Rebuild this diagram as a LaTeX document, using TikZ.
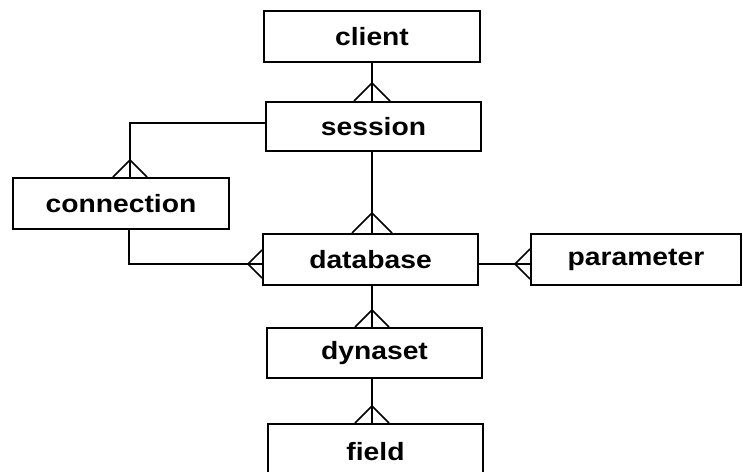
\documentclass[tikz,border=0pt]{standalone}
\usepackage{fontspec}
\newfontfamily\labfont{Liberation Sans}[FakeStretch=1.13]
\begin{document}
\begin{tikzpicture}[x=1pt,y=-1pt,
  entity/.style={draw,line width=2pt,rectangle,inner sep=0pt,
    font=\labfont\bfseries\fontsize{25}{30}\selectfont},
  link/.style={line width=1.6pt},
  crowtop/.pic={\draw[line width=1.6pt,line join=miter] (-#1,0) -- (0,-#1) -- (#1,0);},
  crowleft/.pic={\draw[line width=1.6pt,line join=miter] (0,-#1) -- (-#1,0) -- (0,#1);}
]
\useasboundingbox (0,0) rectangle (743,471);
\clip (0,0) rectangle (743,471);
\fill[white] (0,0) rectangle (743,471);

\node[entity,minimum width=216pt,minimum height=51pt] (client) at (372,36.5) {client};
\node[entity,minimum width=215pt,minimum height=49pt] (session) at (373.5,126.5) {session};
\node[entity,minimum width=216pt,minimum height=51pt] (connection) at (121,203.5) {connection};
\node[entity,minimum width=215pt,minimum height=51pt] (database) at (370.5,259.5) {database};
\node[entity,minimum width=210pt,minimum height=51pt] (parameter) at (636,259.5) {parameter};
\node[entity,minimum width=215pt,minimum height=50pt] (dynaset) at (374.5,353) {dynaset};
\node[entity,minimum width=215pt,minimum height=56pt] (field) at (375.5,452) {field};

\coordinate (spine) at (372,0);
\coordinate (cx) at (130,0);
\coordinate (lowrow) at (0,264);

% client -- session
\draw[link] (spine |- client.south) -- (spine |- session.north);
\pic at (spine |- session.north) {crowtop=18};

% session -- connection
\draw[link] ([yshift=3.5pt]session.west) -| (cx |- connection.north);
\pic at (cx |- connection.north) {crowtop=17};

% session -- database
\draw[link] (spine |- session.south) -- (spine |- database.north);
\pic at (spine |- database.north) {crowtop=20};

% connection -- database
\draw[link] ([xshift=8pt]connection.south) |- (lowrow -| database.west);
\pic at (lowrow -| database.west) {crowleft=14};

% database -- parameter
\draw[link] (lowrow -| database.east) -- (lowrow -| parameter.west);
\pic at (lowrow -| parameter.west) {crowleft=15};

% database -- dynaset
\draw[link] (spine |- database.south) -- (spine |- dynaset.north);
\pic at (spine |- dynaset.north) {crowtop=17};

% dynaset -- field
\draw[link] (spine |- dynaset.south) -- (spine |- field.north);
\pic at (spine |- field.north) {crowtop=17};
\end{tikzpicture}
\end{document}
